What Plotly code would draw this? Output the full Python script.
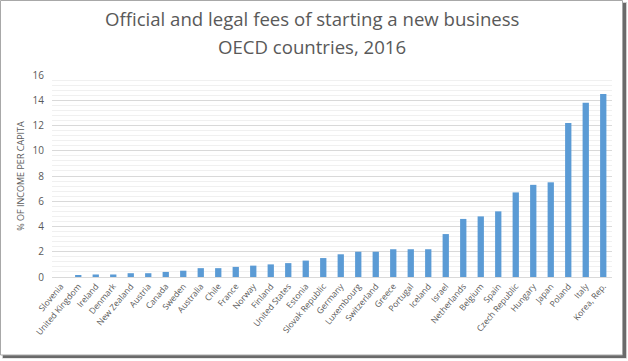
import plotly.graph_objects as go

countries = ["Slovenia", "United Kingdom", "Ireland", "Denmark", "New Zealand", "Austria",
             "Canada", "Sweden", "Australia", "Chile", "France", "Norway", "Finland",
             "United States", "Estonia", "Slovak Republic", "Germany", "Luxembourg",
             "Switzerland", "Greece", "Portugal", "Iceland", "Israel", "Netherlands",
             "Belgium", "Spain", "Czech Republic", "Hungary", "Japan", "Poland", "Italy",
             "Korea, Rep."]
fees = [0.0, 0.1, 0.2, 0.2, 0.3, 0.3, 0.4, 0.5, 0.7, 0.7, 0.8, 0.9, 1.0, 1.1, 1.3, 1.5,
        1.8, 2.0, 2.0, 2.2, 2.2, 2.2, 3.4, 4.6, 4.8, 5.2, 6.7, 7.3, 7.5, 12.2, 13.8, 14.5]
y_ticks = [0, 2, 4, 6, 8, 10, 12, 14, 16]
title_lines = ["Official and legal fees of starting a new business", "OECD countries, 2016"]

# plot area in pixels: x 52..612, y 75..277
L, R, T, B = 52, 612, 75, 277
W, H = R - L, B - T


def px(x):
    return (x - L) / W


def py(y):
    return (B - y) / H


fig = go.Figure(go.Bar(x=countries, y=fees, marker=dict(color="#5B9BD5",
                line=dict(color="#5B9BD5", width=0))))

shapes = [
    dict(type="rect", xref="paper", yref="paper", layer="below",
         x0=px(2), x1=px(627), y0=py(358.5), y1=py(2), fillcolor="#cfcfcf", line=dict(width=0)),
    dict(type="rect", xref="paper", yref="paper", layer="below",
         x0=px(3), x1=px(626), y0=py(358), y1=py(3), fillcolor="#6a6a6a", line=dict(width=0)),
    dict(type="rect", xref="paper", yref="paper", layer="below",
         x0=px(0.5), x1=px(622.5), y0=py(355), y1=py(0.5), fillcolor="white",
         line=dict(color="#a8a8a8", width=1)),
]

annotations = [
    dict(text=title_lines[0], xref="paper", yref="paper", x=px(312), y=py(19),
         xanchor="center", yanchor="middle", showarrow=False,
         font=dict(size=18.6, color="#595959", family="Open Sans, sans-serif")),
    dict(text=title_lines[1], xref="paper", yref="paper", x=px(312), y=py(46),
         xanchor="center", yanchor="middle", showarrow=False,
         font=dict(size=18.6, color="#595959", family="Open Sans, sans-serif")),
]

fig.update_layout(
    width=628, height=361,
    margin=dict(l=L, r=628 - R, t=T, b=361 - B, autoexpand=False),
    paper_bgcolor="white", plot_bgcolor="white",
    bargap=0.64,
    showlegend=False,
    font=dict(family="Open Sans, Liberation Sans, sans-serif", color="#595959"),
    xaxis=dict(tickangle=-50, tickfont=dict(size=8.5, color="#595959"),
               showline=True, linecolor="#d9d9d9", linewidth=1, ticks="",
               showgrid=False, automargin=False),
    yaxis=dict(range=[0, 16], tickvals=y_ticks, ticktext=[str(v) for v in y_ticks],
               tickfont=dict(size=10, color="#595959"), automargin=False,
               ticklabelstandoff=7,
               showgrid=True, gridcolor="#d9d9d9", gridwidth=1, zeroline=False,
               minor=dict(dtick=0.4, showgrid=True, gridcolor="#f0f0f0", gridwidth=1),
               title=dict(text="% OF INCOME PER CAPITA", font=dict(size=9, color="#595959"),
                          standoff=6)),
    shapes=shapes,
    annotations=annotations,
)

fig.write_html("out.html", config={"displayModeBar": False},
               post_script="document.body.style.margin='0';")
